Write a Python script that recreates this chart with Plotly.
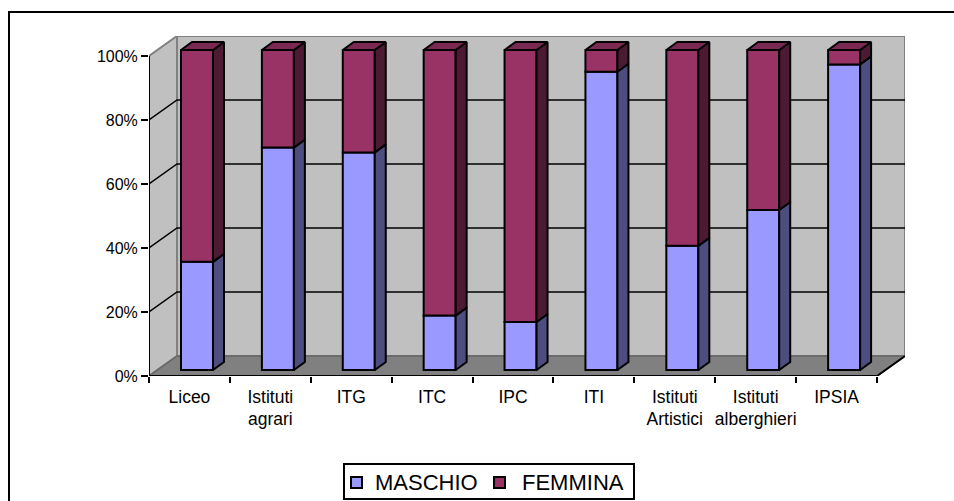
import plotly.graph_objects as go

categories = ["Liceo", "Istituti<br>agrari", "ITG", "ITC", "IPC", "ITI",
              "Istituti<br>Artistici", "Istituti<br>alberghieri", "IPSIA"]
maschio = [33.8, 69.5, 68, 17, 15, 93.2, 38.8, 50, 95.5]
femmina = [66.2, 30.5, 32, 83, 85, 6.8, 61.2, 50, 4.5]
series_names = ["MASCHIO", "FEMMINA"]
y_ticks = [0, 20, 40, 60, 80, 100]
y_labels = ["0%", "20%", "40%", "60%", "80%", "100%"]

PX_X = 80.9
PX_Y = 3.2
L, T, R, B = 149, 36, 905, 376
W, H = 954, 501
dx_wall = 28 / PX_X
dy_wall = 20 / PX_Y
dx_bar = 11 / PX_X
dy_bar = 8 / PX_Y
bar_w = 32 / PX_X
bar_left = 32 / PX_X
base0 = 6 / PX_Y
n = len(categories)

BLUE, BLUE_SIDE = "#9999ff", "#4d4d80"
RED, RED_SIDE, RED_TOP = "#993366", "#4d1a33", "#7a2952"
GREY, DARK = "#c0c0c0", "#808080"


def px(x):
    return (x - L) / (R - L)


def py(y):
    return (B - y) / (B - T)


def poly(xs, ys, fill, line="black", width=0, layer="below"):
    path = "M" + "L".join(f"{x},{y}" for x, y in zip(xs, ys)) + "Z"
    return dict(type="path", path=path, xref="x", yref="y", fillcolor=fill,
                line=dict(color=line, width=width), layer=layer)


def box(x0, y0, x1, y1, fill, width):
    return dict(type="rect", xref="paper", yref="paper", x0=px(x0), x1=px(x1),
                y0=py(y0), y1=py(y1), fillcolor=fill, layer="above",
                line=dict(color="black", width=width))


shapes = [
    poly([dx_wall, n + dx_wall, n + dx_wall, dx_wall],
         [dy_wall, dy_wall, 100 + dy_wall, 100 + dy_wall], GREY, DARK, 2),
    poly([0, dx_wall, dx_wall, 0], [0, dy_wall, 100 + dy_wall, 100], GREY, DARK, 2),
    poly([0, dx_wall, n + dx_wall, n], [0, dy_wall, dy_wall, 0], DARK, "#666666", 1.5),
]
for t in y_ticks[1:-1]:
    shapes.append(dict(type="path", xref="x", yref="y", layer="below",
                       path=f"M0,{t}L{dx_wall},{t + dy_wall}L{n + dx_wall},{t + dy_wall}",
                       line=dict(color="black", width=1.5)))
# front axis lines
shapes.append(dict(type="path", xref="x", yref="y", layer="below",
                   path=f"M0,100L0,0L{n},0L{n + dx_wall},{dy_wall}",
                   line=dict(color="black", width=2)))
# outer frame: left and top edges only are inside the window
shapes.append(dict(type="path", xref="paper", yref="paper", layer="below",
                   path=f"M{px(9)},{py(520)}L{px(9)},{py(12)}L{px(970)},{py(12)}",
                   line=dict(color="black", width=2)))
# legend
shapes.append(box(344, 464, 634, 499, "white", 2))
shapes.append(box(351, 477, 362, 488, BLUE, 2))
shapes.append(box(494, 477, 505, 488, RED, 2))

annotations = [
    dict(xref="paper", yref="paper", x=px(426.5), y=py(482.5), text=series_names[0],
         showarrow=False, xanchor="center", yanchor="middle", font=dict(size=22)),
    dict(xref="paper", yref="paper", x=px(572.5), y=py(482.5), text=series_names[1],
         showarrow=False, xanchor="center", yanchor="middle", font=dict(size=22)),
]

fig = go.Figure()
centers = [i + bar_left + bar_w / 2 for i in range(n)]
lbase = [base0] * n
fig.add_trace(go.Bar(x=centers, y=maschio, base=lbase, width=bar_w, name=series_names[0],
                     marker=dict(color=BLUE, line=dict(color="black", width=2))))
fig.add_trace(go.Bar(x=centers, y=femmina, base=[base0 + m for m in maschio], width=bar_w,
                     name=series_names[1], marker=dict(color=RED, line=dict(color="black", width=2))))


def face(xs, ys, fill):
    fig.add_trace(go.Scatter(x=xs, y=ys, mode="lines", fill="toself", fillcolor=fill,
                             line=dict(color="black", width=2), showlegend=False,
                             hoverinfo="skip", cliponaxis=False))


for i, (m, f) in enumerate(zip(maschio, femmina)):
    x1 = i + bar_left + bar_w
    x2 = x1 + dx_bar
    y0 = base0
    y1 = base0 + m
    y2 = y1 + f
    face([x1, x2, x2, x1, x1], [y0, y0 + dy_bar, y1 + dy_bar, y1, y0], BLUE_SIDE)
    face([x1, x2, x2, x1, x1], [y1, y1 + dy_bar, y2 + dy_bar, y2, y1], RED_SIDE)
    x0 = x1 - bar_w
    face([x0, x0 + dx_bar, x2, x1, x0], [y2, y2 + dy_bar, y2 + dy_bar, y2, y2], RED_TOP)

fig.update_layout(
    width=W, height=H, autosize=False, barmode="overlay", showlegend=False,
    margin=dict(l=L, r=W - R, t=T, b=H - B, pad=0, autoexpand=False),
    paper_bgcolor="white", plot_bgcolor="white",
    font=dict(family="Liberation Sans, Arial, sans-serif", color="black"),
    shapes=shapes, annotations=annotations, hovermode=False,
    xaxis=dict(range=[0, n + dx_wall], tickmode="array",
               tickvals=[i + 0.5 for i in range(n)], ticktext=categories,
               ticks="", showgrid=False, zeroline=False, showline=False,
               tickfont=dict(size=17.5), ticklabelstandoff=8,
               minor=dict(tickmode="array", tickvals=list(range(n + 1)), ticks="outside",
                          ticklen=6, tickwidth=2, tickcolor="black", showgrid=False)),
    yaxis=dict(range=[0, 100 + dy_wall], tickmode="array", tickvals=y_ticks, ticktext=y_labels,
               ticks="outside", ticklen=7, tickwidth=2, tickcolor="black",
               showgrid=False, zeroline=False, showline=False, tickfont=dict(size=16)),
)
fig.write_html("out.html", config={"displayModeBar": False},
               post_script="document.body.style.margin='0';document.body.style.overflow='hidden';")
